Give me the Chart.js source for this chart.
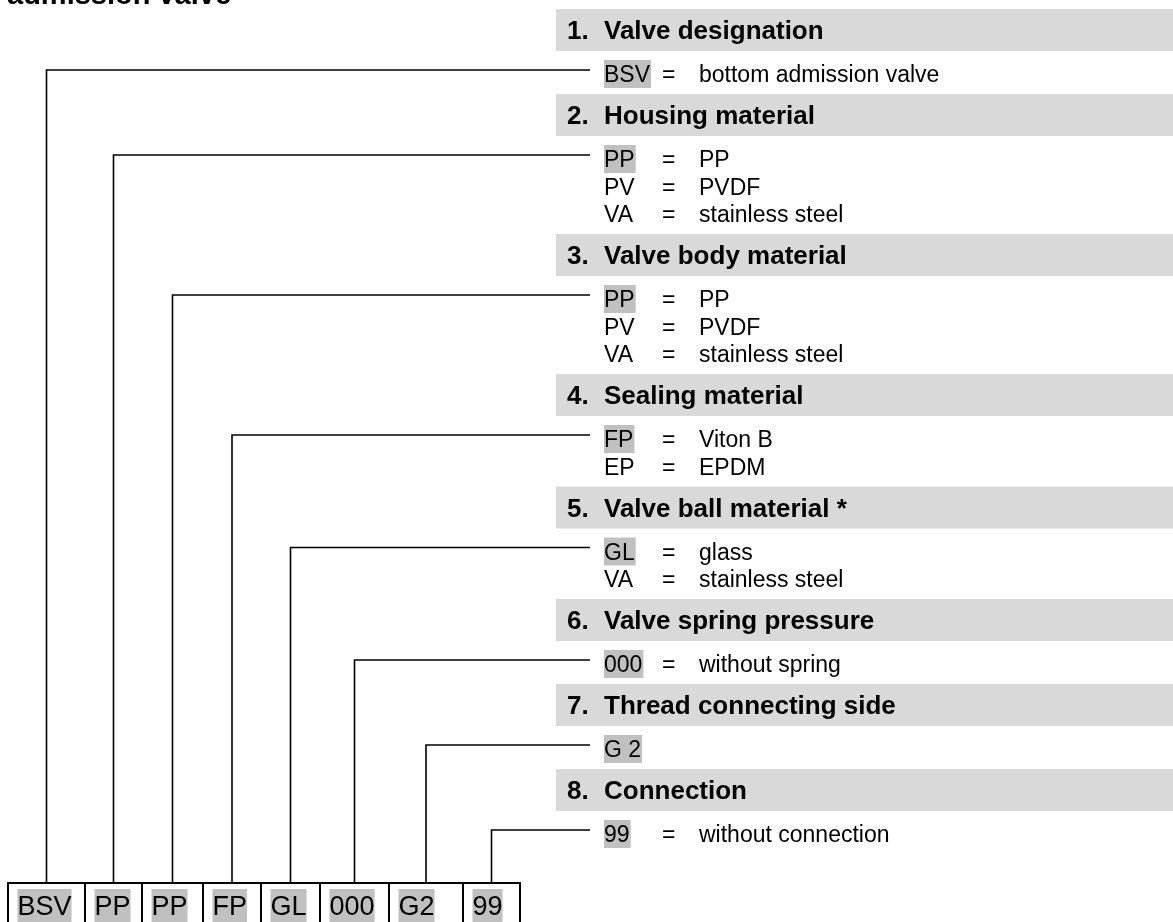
<!DOCTYPE html>
<html><head><meta charset="utf-8">
<script src="https://cdn.jsdelivr.net/npm/chart.js@4/dist/chart.umd.min.js"></script>
<style>html,body{margin:0;padding:0;background:#fff;overflow:hidden}canvas{display:block}</style>
</head><body>
<canvas id="c" width="1173" height="922"></canvas>
<script>
// ---------- data ----------
const titleText = 'admission valve';
const sectionTitles = ['Valve designation','Housing material','Valve body material','Sealing material','Valve ball material *','Valve spring pressure','Thread connecting side','Connection'];
const optionCodes = [['BSV'],['PP','PV','VA'],['PP','PV','VA'],['FP','EP'],['GL','VA'],['000'],['G 2'],['99']];
const optionMeanings = [['bottom admission valve'],['PP','PVDF','stainless steel'],['PP','PVDF','stainless steel'],['Viton B','EPDM'],['glass','stainless steel'],['without spring'],[''],['without connection']];
const typeCode = ['BSV','PP','PP','FP','GL','000','G2','99'];

// ---------- layout (styles & geometry, not data) ----------
const L = {
  W:1173, H:922,
  firstHeaderTop:9, headerH:42, sectionBase:85, rowStep:27.5,
  headerX:556, numX:567, titleX:604, codeX:604, eqX:662, valX:699,
  firstRowOffset:73, leaderOffset:61, leaderEndX:590, headerBaseline:30,
  boxTop:883, boxBottom:960, boxEdges:[8,85,142,203,261,320,389,463,520], boxPad:9.5, boxBaseline:915,
  headerFont:'bold 26px "Liberation Sans", Arial, sans-serif',
  bodyFont:'23px "Liberation Sans", Arial, sans-serif',
  boxFont:'27px "Liberation Sans", Arial, sans-serif',
  titleFont:'bold 29px "Liberation Sans", Arial, sans-serif',
  headerFill:'#d9d9d9', hiFill:'#c0c0c0', ink:'#000'
};

// section header tops derived from the number of options per section
const headerTops = [];
optionCodes.forEach((codes,i)=>{
  headerTops.push(i===0 ? L.firstHeaderTop : headerTops[i-1] + L.sectionBase + L.rowStep*(optionCodes[i-1].length-1));
});

// leader lines start at the centre of each type-code box
const leaderXs = typeCode.map((c,i)=> (L.boxEdges[i] + L.boxEdges[i+1]) / 2);

const leaderSets = typeCode.map((c,i)=>({
  label:c,
  data:[{x:leaderXs[i], y:L.boxTop},{x:leaderXs[i], y:headerTops[i]+L.leaderOffset},{x:L.leaderEndX, y:headerTops[i]+L.leaderOffset}],
  showLine:true, borderColor:L.ink, borderWidth:1.6, pointRadius:0, fill:false, tension:0
}));

const diagram = {
  id:'diagram',
  beforeDatasetsDraw(chart){
    const {ctx, scales:{x,y}} = chart;
    ctx.save();
    ctx.fillStyle = L.headerFill;
    headerTops.forEach(t=>{
      const x0=x.getPixelForValue(L.headerX), x1=x.getPixelForValue(L.W);
      const y0=y.getPixelForValue(t), y1=y.getPixelForValue(t+L.headerH);
      ctx.fillRect(x0,y0,x1-x0,y1-y0);
    });
    // highlights for selected options
    ctx.font = L.bodyFont;
    ctx.fillStyle = L.hiFill;
    optionCodes.forEach((codes,i)=>{
      codes.forEach((c,j)=>{
        if (c.replace(/\s/g,'') !== typeCode[i]) return;
        const b = headerTops[i] + L.firstRowOffset + j*L.rowStep;
        const w = ctx.measureText(c).width;
        const x0=x.getPixelForValue(L.codeX);
        ctx.fillRect(x0, y.getPixelForValue(b-22), w+1, 28);
      });
    });
    // box code highlights
    ctx.font = L.boxFont;
    typeCode.forEach((c,i)=>{
      const x0 = x.getPixelForValue(L.boxEdges[i]+L.boxPad);
      const w = ctx.measureText(c).width;
      ctx.fillRect(x0, y.getPixelForValue(L.boxBaseline-26), w, 34);
    });
    ctx.restore();
  },
  afterDatasetsDraw(chart){
    const {ctx, scales:{x,y}} = chart;
    ctx.save();
    ctx.fillStyle = L.ink;
    ctx.textBaseline = 'alphabetic';
    ctx.textAlign = 'left';
    // title (cut off at top)
    ctx.font = L.titleFont;
    ctx.fillText(titleText, x.getPixelForValue(7), y.getPixelForValue(4));
    // headers
    ctx.font = L.headerFont;
    sectionTitles.forEach((t,i)=>{
      const by = y.getPixelForValue(headerTops[i]+L.headerBaseline);
      ctx.fillText((i+1)+'.', x.getPixelForValue(L.numX), by);
      ctx.fillText(t, x.getPixelForValue(L.titleX), by);
    });
    // options
    ctx.font = L.bodyFont;
    optionCodes.forEach((codes,i)=>{
      codes.forEach((c,j)=>{
        const by = y.getPixelForValue(headerTops[i] + L.firstRowOffset + j*L.rowStep);
        ctx.fillText(c, x.getPixelForValue(L.codeX), by);
        const m = optionMeanings[i][j];
        if (m) {
          ctx.fillText('=', x.getPixelForValue(L.eqX), by);
          ctx.fillText(m, x.getPixelForValue(L.valX), by);
        }
      });
    });
    // boxes
    ctx.strokeStyle = L.ink;
    ctx.lineWidth = 2;
    for (let i=0;i<typeCode.length;i++){
      const x0=x.getPixelForValue(L.boxEdges[i]), x1=x.getPixelForValue(L.boxEdges[i+1]);
      const y0=y.getPixelForValue(L.boxTop), y1=y.getPixelForValue(L.boxBottom);
      ctx.strokeRect(x0,y0,x1-x0,y1-y0);
    }
    ctx.font = L.boxFont;
    typeCode.forEach((c,i)=>{
      ctx.fillText(c, x.getPixelForValue(L.boxEdges[i]+L.boxPad), y.getPixelForValue(L.boxBaseline));
    });
    ctx.restore();
  }
};

new Chart(document.getElementById('c'), {
  type:'scatter',
  data:{datasets:leaderSets},
  options:{
    responsive:false, animation:false, devicePixelRatio:1,
    layout:{padding:0},
    scales:{
      x:{type:'linear', min:0, max:L.W, display:false},
      y:{type:'linear', min:0, max:L.H, reverse:true, display:false}
    },
    plugins:{legend:{display:false}, tooltip:{enabled:false}},
    events:[]
  },
  plugins:[diagram]
});
</script>
</body></html>
